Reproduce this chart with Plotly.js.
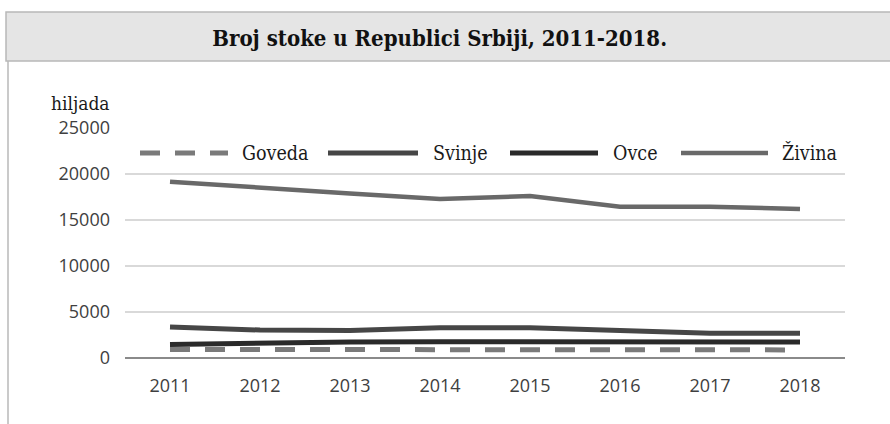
<!DOCTYPE html>
<html>
<head>
<meta charset="utf-8">
<script src="https://cdn.plot.ly/plotly-3.0.1.min.js"></script>
<style>html,body{margin:0;padding:0;background:#fff;}#chart{width:890px;height:424px;}</style>
</head>
<body>
<div id="chart"></div>
<script>
// Data (thousands of heads)
var years = ['2011','2012','2013','2014','2015','2016','2017','2018'];
var seriesNames = ['Goveda','Svinje','Ovce','Živina'];
var goveda = [930, 920, 910, 920, 915, 895, 880, 880];
var svinje = [3370, 3040, 3000, 3300, 3300, 3000, 2700, 2700];
var ovce   = [1470, 1650, 1730, 1760, 1780, 1720, 1730, 1730];
var zivina = [19160, 18480, 17880, 17280, 17610, 16450, 16450, 16200];
var yTicks = [0, 5000, 10000, 15000, 20000, 25000];
var titleText = 'Broj stoke u Republici Srbiji, 2011-2018.';
var unitText = 'hiljada';

var W = 890, H = 424;
var M = {l:125, r:45, t:128, b:66};
var PW = W - M.l - M.r, PH = H - M.t - M.b;
function px(x){ return (x - M.l) / PW; }
function py(y){ return (H - M.b - y) / PH; }

var styles = [
  {color:'#7a7a7a', width:5, dash:'20px,15px'},
  {color:'#464646', width:5, dash:'solid'},
  {color:'#2a2a2a', width:5, dash:'solid'},
  {color:'#696969', width:4.5, dash:'solid'}
];
var values = [goveda, svinje, ovce, zivina];

var traces = values.map(function(v, i){
  return {x: years, y: v, type:'scatter', mode:'lines', name: seriesNames[i],
          line: {color: styles[i].color, width: styles[i].width, dash: styles[i].dash},
          showlegend:false, hoverinfo:'skip'};
});

var serif = 'DejaVu Serif Condensed, Liberation Serif, serif';
var shapes = [
  // title band
  {type:'rect', xref:'paper', yref:'paper', x0:px(6), x1:px(892), y0:py(61), y1:py(12),
   fillcolor:'#e5e5e5', line:{color:'#b8b8b8', width:1.5}, layer:'below'},
  // left frame
  {type:'line', xref:'paper', yref:'paper', x0:px(8), x1:px(8), y0:py(61), y1:py(430),
   line:{color:'#b8b8b8', width:1.5}}
];
var annotations = [
  {xref:'paper', yref:'paper', x:px(49), y:py(103), xanchor:'left', yanchor:'middle',
   text: unitText, showarrow:false, font:{family:serif, size:19, color:'#1a1a1a'}}
];
// custom legend
var legSym = [[140,228],[328,418],[510,598],[681,768]];
var legTxt = [240, 431, 611, 780];
var legY = py(153);
seriesNames.forEach(function(n, i){
  shapes.push({type:'line', xref:'paper', yref:'paper', x0:px(legSym[i][0]), x1:px(legSym[i][1]), y0:legY, y1:legY,
    line:{color:styles[i].color, width:styles[i].width, dash:styles[i].dash}});
  annotations.push({xref:'paper', yref:'paper', x:px(legTxt[i]), y:legY, xanchor:'left', yanchor:'middle',
    text:n, showarrow:false, font:{family:serif, size:19.5, color:'#1a1a1a'}});
});

var layout = {
  width: W, height: H,
  margin: M,
  paper_bgcolor:'#ffffff', plot_bgcolor:'#ffffff',
  title: {text: titleText, x: 0.494, xref:'container', y: 1 - 38/H, yref:'container', yanchor:'middle', xanchor:'center',
          font:{family:serif, size:22, color:'#111', weight:'bold'}},
  xaxis: {type:'category', range:[-0.5, 7.5], showgrid:false, zeroline:false, showline:false,
          ticks:'', ticklabelstandoff: 15,
          tickfont:{family:'Open Sans, sans-serif', size:18, color:'#404040'}, fixedrange:true},
  yaxis: {range:[0, 25000], tickvals: yTicks, ticktext: yTicks.map(String),
          showgrid:true, gridcolor:'#d9d9d9', gridwidth:2,
          zeroline:true, zerolinecolor:'#8a8a8a', zerolinewidth:2, showline:false, ticks:'',
          ticklabelstandoff: 14,
          tickfont:{family:'Open Sans, sans-serif', size:18, color:'#404040'}, fixedrange:true},
  shapes: shapes,
  annotations: annotations,
  showlegend:false
};

Plotly.newPlot('chart', traces, layout, {displayModeBar:false, staticPlot:true});
</script>
</body>
</html>
